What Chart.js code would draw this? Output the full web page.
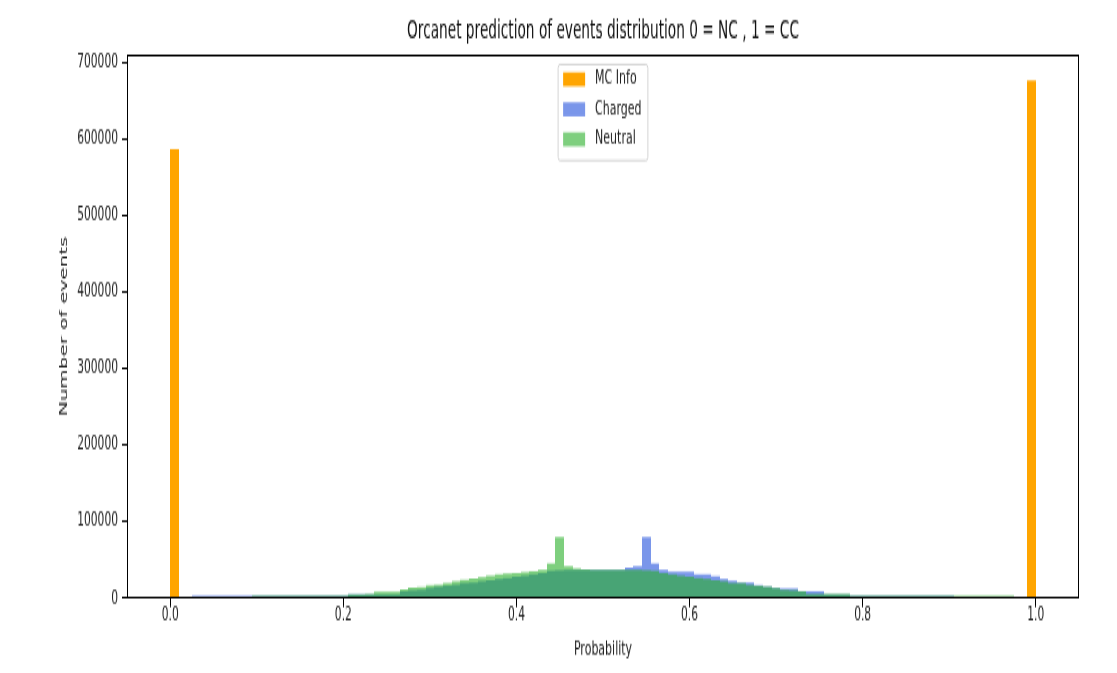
<!DOCTYPE html>
<html>
<head>
<meta charset="utf-8">
<title>Orcanet prediction of events distribution</title>
<script src="https://cdn.jsdelivr.net/npm/chart.js@4.4.1/dist/chart.umd.min.js"></script>
<style>
  html, body { margin: 0; padding: 0; background: #fff; }
  #page { width: 1117px; height: 673px; overflow: hidden; position: relative; }
  /* the original figure is stretched vertically, so draw it flat and scale it up */
  #wrap { position: absolute; left: 0; top: 0; width: 1117px; height: 370px; transform: scaleY(1.819); transform-origin: 0 0; }
</style>
</head>
<body>
<div id="page"><div id="wrap"><canvas id="chart" width="1117" height="370"></canvas></div></div>
<script>
// MC truth: two bins of width 0.01 at the ends
const mcBins = [0.005, 0.995];
const mcCounts = [586500, 676500];

// prediction bins (width 0.01)
const binCentres = [
  0.03, 0.04, 0.05, 0.06, 0.07, 0.08, 0.09, 0.10, 0.11, 0.12,
  0.13, 0.14, 0.15, 0.16, 0.17, 0.18, 0.19, 0.20, 0.21, 0.22,
  0.23, 0.24, 0.25, 0.26, 0.27, 0.28, 0.29, 0.30, 0.31, 0.32,
  0.33, 0.34, 0.35, 0.36, 0.37, 0.38, 0.39, 0.40, 0.41, 0.42,
  0.43, 0.44, 0.45, 0.46, 0.47, 0.48, 0.49, 0.50, 0.51, 0.52,
  0.53, 0.54, 0.55, 0.56, 0.57, 0.58, 0.59, 0.60, 0.61, 0.62,
  0.63, 0.64, 0.65, 0.66, 0.67, 0.68, 0.69, 0.70, 0.71, 0.72,
  0.73, 0.74, 0.75, 0.76, 0.77, 0.78, 0.79, 0.80, 0.81, 0.82,
  0.83, 0.84, 0.85, 0.86, 0.87, 0.88, 0.89, 0.90, 0.91, 0.92,
  0.93, 0.94, 0.95, 0.96, 0.97
];

const chargedCounts = [
  3000, 3000, 3000, 3000, 3000, 3000, 3000, 3000, 3000, 3000,
  3000, 3000, 3000, 3000, 3000, 3000, 3000, 3000, 5000, 5000,
  5000, 5000, 5000, 5000, 9000, 10000, 11000, 13000, 15000, 16000,
  17500, 19500, 20500, 22000, 23000, 25000, 26500, 28000, 29500, 31000,
  33000, 36000, 36500, 37000, 37000, 37000, 37000, 37000, 37000, 37000,
  40000, 42000, 79500, 45500, 37000, 34500, 34500, 34500, 31000, 31000,
  28500, 25000, 22500, 20500, 20500, 17000, 15000, 13000, 12500, 12500,
  9000, 9000, 9000, 5000, 5000, 5000, 3000, 3000, 3000, 3000,
  3000, 3000, 3000, 3000, 3000, 3000, 3000, 3000, 0, 0,
  0, 0, 0, 0, 0
];

const neutralCounts = [
  0, 0, 0, 0, 0, 0, 0, 3000, 3000, 3000,
  3000, 3000, 3000, 3000, 3000, 3000, 3000, 3000, 5000, 5000,
  5500, 8500, 8500, 8500, 11500, 14000, 14500, 16500, 17500, 19500,
  22000, 24000, 25500, 27500, 29500, 31000, 32000, 33000, 34000, 35000,
  37000, 45500, 79500, 41500, 39000, 37500, 37000, 37000, 37000, 37000,
  37000, 37000, 36500, 36000, 33000, 31000, 29500, 28000, 26500, 25000,
  23000, 22000, 20000, 19500, 17500, 16000, 15000, 13000, 11000, 10000,
  9000, 5500, 5500, 5500, 5500, 5500, 3000, 3000, 3000, 3000,
  3000, 3000, 3000, 3000, 3000, 3000, 3000, 3000, 3000, 3000,
  3000, 3000, 3000, 3000, 3000
];

const xTicks = [0, 0.2, 0.4, 0.6, 0.8, 1.0];
const xTickLabels = ['0.0', '0.2', '0.4', '0.6', '0.8', '1.0'];
const yTicks = [0, 100000, 200000, 300000, 400000, 500000, 600000, 700000];
const yTickLabels = ['0', '100000', '200000', '300000', '400000', '500000', '600000', '700000'];

const toPoints = (xs, ys) => xs.map((x, i) => ({ x: x, y: ys[i] }));

Chart.defaults.font.family = '"DejaVu Sans", sans-serif';
Chart.defaults.color = '#222';

// snap bar edges to whole pixels so neighbouring translucent bars leave no seams
const snapBars = {
    id: 'snapBars',
    beforeDatasetsDraw(chart) {
        chart.getSortedVisibleDatasetMetas().forEach(meta => {
            meta.data.forEach(bar => {
                const left = Math.round(bar.x - bar.width / 2);
                const right = Math.round(bar.x + bar.width / 2);
                bar.x = (left + right) / 2;
                bar.width = right - left;
            });
        });
    }
};

// axes box and the legend inside the plot, matplotlib style
const frameAndLegend = {
    id: 'frameAndLegend',
    afterDraw(chart) {
        const ctx = chart.ctx;
        const a = chart.chartArea;
        ctx.save();
        ctx.strokeStyle = '#000';
        ctx.lineWidth = 1;
        ctx.strokeRect(Math.round(a.left) + 0.5, Math.round(a.top) + 0.5,
            Math.round(a.right - a.left) - 1, Math.round(a.bottom - a.top) - 1);

        ctx.font = '11px "DejaVu Sans"';
        const items = chart.data.datasets;
        const textW = Math.max(...items.map(d => ctx.measureText(d.label).width));
        const boxW = 37 + textW + 6.3;
        const boxH = 52.8;
        const x0 = (a.left + a.right) / 2 - boxW / 2;
        const y0 = a.top + 5.4;

        ctx.beginPath();
        if (ctx.roundRect) {
            ctx.roundRect(x0, y0, boxW, boxH, 2);
        } else {
            ctx.rect(x0, y0, boxW, boxH);
        }
        ctx.fillStyle = 'rgba(255,255,255,0.8)';
        ctx.fill();
        ctx.strokeStyle = '#d4d4d4';
        ctx.stroke();

        ctx.textBaseline = 'middle';
        items.forEach((d, i) => {
            const cy = y0 + 8.2 + i * 16.5;
            ctx.fillStyle = d.backgroundColor;
            ctx.fillRect(x0 + 5, cy - 3.9, 22, 7.7);
            ctx.fillStyle = '#222';
            ctx.fillText(d.label, x0 + 37, cy);
        });
        ctx.restore();
    }
};

const ctx = document.getElementById('chart').getContext('2d');
new Chart(ctx, {
    type: 'bar',
    data: {
        datasets: [
            { label: 'MC Info', data: toPoints(mcBins, mcCounts), backgroundColor: '#ffa500', order: 2 },
            { label: 'Charged', data: toPoints(binCentres, chargedCounts), backgroundColor: 'rgba(65,105,225,0.7)', order: 1 },
            { label: 'Neutral', data: toPoints(binCentres, neutralCounts), backgroundColor: 'rgba(40,175,40,0.6)', order: 0 }
        ]
    },
    options: {
        responsive: false,
        animation: false,
        devicePixelRatio: 1,
        datasets: {
            bar: { grouped: false, barPercentage: 1, categoryPercentage: 1, borderWidth: 0, inflateAmount: 0 }
        },
        layout: { padding: { left: 0, right: 38, top: 0, bottom: 0 } },
        plugins: {
            legend: { display: false },
            tooltip: { enabled: false },
            title: {
                display: true,
                fullSize: false,
                text: 'Orcanet prediction of events distribution 0 = NC , 1 = CC',
                color: '#111',
                font: { size: 13.7, weight: 'normal' },
                padding: { top: 9, bottom: 4.6 }
            }
        },
        scales: {
            x: {
                type: 'linear',
                min: -0.05,
                max: 1.05,
                offset: false,
                afterBuildTicks: axis => { axis.ticks = xTicks.map(v => ({ value: v })); },
                afterFit: axis => { axis.height = 41.2; },
                ticks: {
                    font: { size: 10.7 },
                    color: '#222',
                    padding: -1.5,
                    maxRotation: 0,
                    callback: v => xTickLabels[xTicks.indexOf(v)]
                },
                grid: { offset: false, drawOnChartArea: false, drawTicks: true, tickLength: 5, tickColor: '#000' },
                border: { display: false },
                title: {
                    display: true,
                    text: 'Probability',
                    color: '#222',
                    font: { size: 11 },
                    padding: { top: 0, bottom: 6.4 }
                }
            },
            y: {
                min: 0,
                max: 710000,
                afterBuildTicks: axis => { axis.ticks = yTicks.map(v => ({ value: v })); },
                afterFit: axis => { axis.width = 127; },
                ticks: {
                    font: { size: 10.7 },
                    color: '#222',
                    padding: 4,
                    callback: v => yTickLabels[yTicks.indexOf(v)]
                },
                grid: { drawOnChartArea: false, drawTicks: true, tickLength: 5, tickColor: '#000' },
                border: { display: false },
                title: {
                    display: true,
                    text: 'Number of events',
                    color: '#222',
                    font: { size: 11 },
                    padding: { top: 57.9, bottom: 0 }
                }
            }
        }
    },
    plugins: [snapBars, frameAndLegend]
});
</script>
</body>
</html>
